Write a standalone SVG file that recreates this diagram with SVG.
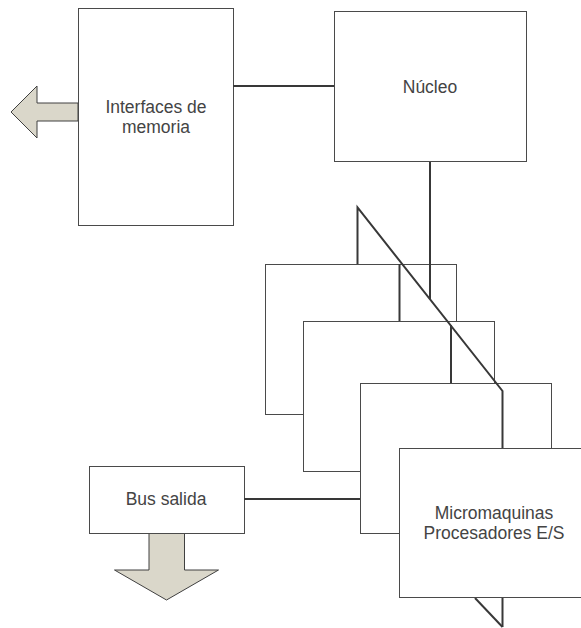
<svg xmlns="http://www.w3.org/2000/svg" width="581" height="628" viewBox="0 0 581 628">
  <style>
    .box { fill: #ffffff; stroke: #4a4a4a; stroke-width: 1; }
    .label { font-family: "Liberation Sans", Arial, sans-serif; font-size: 17.5px; fill: #444444; text-anchor: middle; }
    .wire { fill: none; stroke: #383838; stroke-width: 2; }
    .bigarrow { fill: #dad7ca; stroke: #404040; stroke-width: 1; stroke-linejoin: miter; }
  </style>
  <rect width="581" height="628" fill="#ffffff"/>

  <!-- memory interface with outgoing arrow -->
  <g id="interfaces">
    <polygon class="bigarrow" points="11,112 37,86 37,103 78,103 78,121 37,121 37,138"/>
    <rect class="box" x="78.5" y="8.5" width="155" height="217"/>
    <text class="label" x="156" y="113">Interfaces de</text>
    <text class="label" x="156" y="133">memoria</text>
  </g>

  <!-- core -->
  <g id="nucleo">
    <rect class="box" x="334.5" y="11.5" width="192" height="150"/>
    <text class="label" x="430" y="93">Núcleo</text>
  </g>

  <!-- output bus with downward arrow -->
  <g id="bus-salida">
    <polygon class="bigarrow" points="149,533 149,570 114.5,570 166.5,600 218.5,570 184.5,570 184.5,533"/>
    <rect class="box" x="89.5" y="466.5" width="155" height="67"/>
    <text class="label" x="166" y="505">Bus salida</text>
  </g>

  <!-- stacked micro-machine frames (back to front) -->
  <g id="micro-1"><rect class="box" x="265.5" y="264.5" width="191" height="150"/></g>
  <g id="micro-2"><rect class="box" x="303.5" y="321.5" width="191" height="150"/></g>
  <g id="micro-3"><rect class="box" x="360.5" y="383.5" width="191" height="150"/></g>

  <g id="connectors">
    <line class="wire" x1="233" y1="86" x2="334" y2="86"/>
    <line class="wire" x1="430" y1="162" x2="430" y2="299"/>
    <path class="wire" d="M357.5,264 V207.5 L502.5,391 V627"/>
    <line class="wire" x1="399.5" y1="264" x2="399.5" y2="321"/>
    <line class="wire" x1="451" y1="325" x2="451" y2="383"/>
    <line class="wire" x1="475" y1="598" x2="502.5" y2="627"/>
    <line class="wire" x1="244" y1="499" x2="360" y2="499"/>
  </g>

  <!-- front micro-machine frame -->
  <g id="micro-4">
    <rect class="box" x="399.5" y="448.5" width="191" height="149"/>
    <text class="label" x="494" y="519">Micromaquinas</text>
    <text class="label" x="494" y="539">Procesadores E/S</text>
  </g>
</svg>
